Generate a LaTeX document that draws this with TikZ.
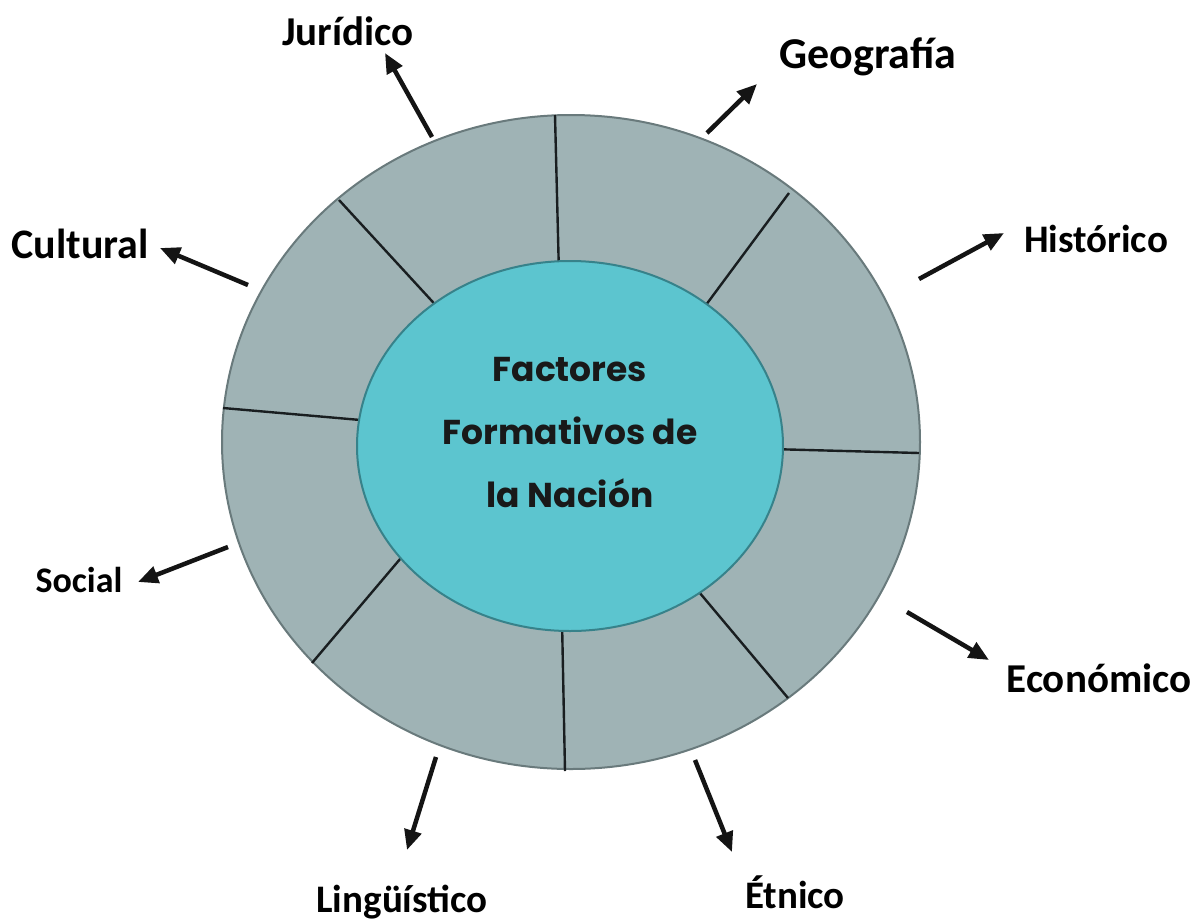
\documentclass[tikz,border=0pt]{standalone}
\usepackage{fontspec}
\setmainfont{Carlito}
\newfontfamily\gothic{Poppins}
\usetikzlibrary{arrows.meta,shapes.geometric}
\definecolor{ringfill}{RGB}{159,179,181}
\definecolor{ringline}{RGB}{105,122,124}
\definecolor{corefill}{RGB}{92,197,207}
\definecolor{coreline}{RGB}{55,130,138}
\definecolor{divline}{RGB}{25,30,32}
\tikzset{
  ring/.style={ellipse, fill=ringfill, draw=ringline, line width=2pt, inner sep=0pt},
  core/.style={ellipse, fill=corefill, draw=coreline, line width=2pt, inner sep=0pt},
  divider/.style={draw=divline, line width=2.4pt},
  arr/.style={draw=black!92, line width=4.5pt, -{Triangle[length=20pt,width=17pt]}},
  lbl/.style={anchor=base, inner sep=0pt, text=black, font=\bfseries}
}
\begin{document}
\begin{tikzpicture}[x=1pt,y=-1pt]
\useasboundingbox[fill=white] (0,0) rectangle (1203,922);
% outer ring
\node[ring, minimum width=698pt, minimum height=654pt] (outer) at (571,442) {};
% dividers
\coordinate (d1o) at (555,115); \coordinate (d1i) at (559,275);
\coordinate (d2o) at (789,193); \coordinate (d2i) at (700,313);
\coordinate (d3o) at (919,453); \coordinate (d3i) at (770,449);
\coordinate (d4o) at (788,698); \coordinate (d4i) at (694,586);
\coordinate (d5o) at (565,771); \coordinate (d5i) at (562,620);
\coordinate (d6o) at (312,663); \coordinate (d6i) at (406,552);
\coordinate (d7o) at (223,408); \coordinate (d7i) at (372,421);
\coordinate (d8o) at (339,200); \coordinate (d8i) at (442,312);
\foreach \k in {1,...,8}{\draw[divider] (d\k o) -- (d\k i);}
% inner core
\node[core, minimum width=426pt, minimum height=370pt] (inner) at (570,446) {};
\node[align=center, font=\gothic\bfseries\fontsize{34.5}{63}\selectfont, text=black!90, anchor=base, inner sep=0pt] (title) at (570,507)
  {Factores\\Formativos de\\la Nación};
% labels
\node[lbl, font=\bfseries\fontsize{41}{41}\selectfont] (jur) at (348,45) {Jurídico};
\node[lbl, font=\bfseries\fontsize{44}{44}\selectfont] (geo) at (868,68) {Geografía};
\node[lbl, font=\bfseries\fontsize{39}{39}\selectfont] (his) at (1096,252) {Histórico};
\node[lbl, font=\bfseries\fontsize{41}{41}\selectfont] (eco) at (1099,692) {Económico};
\node[lbl, font=\bfseries\fontsize{39}{39}\selectfont] (etn) at (795,908) {Étnico};
\node[lbl, font=\bfseries\fontsize{39}{39}\selectfont] (lin) at (402,912) {Lingüístico};
\node[lbl, font=\bfseries\fontsize{36}{36}\selectfont] (soc) at (79,592) {Social};
\node[lbl, font=\bfseries\fontsize{42}{42}\selectfont] (cul) at (80,258) {Cultural};
% arrows
\coordinate (ajt) at (432,137); \coordinate (ajh) at (385,53);
\coordinate (agt) at (707,133); \coordinate (agh) at (757,84);
\coordinate (aht) at (919,279); \coordinate (ahh) at (1004,233);
\coordinate (aet) at (907,612); \coordinate (aeh) at (989,660);
\coordinate (att) at (695,760); \coordinate (ath) at (732,852);
\coordinate (alt) at (436,757); \coordinate (alh) at (407,850);
\coordinate (ast) at (228,547); \coordinate (ash) at (138,582);
\coordinate (act) at (248,285); \coordinate (ach) at (160,248);
\draw[arr] (ajt) -- (ajh);
\draw[arr] (agt) -- (agh);
\draw[arr] (aht) -- (ahh);
\draw[arr] (aet) -- (aeh);
\draw[arr] (att) -- (ath);
\draw[arr] (alt) -- (alh);
\draw[arr] (ast) -- (ash);
\draw[arr] (act) -- (ach);
\end{tikzpicture}
\end{document}
